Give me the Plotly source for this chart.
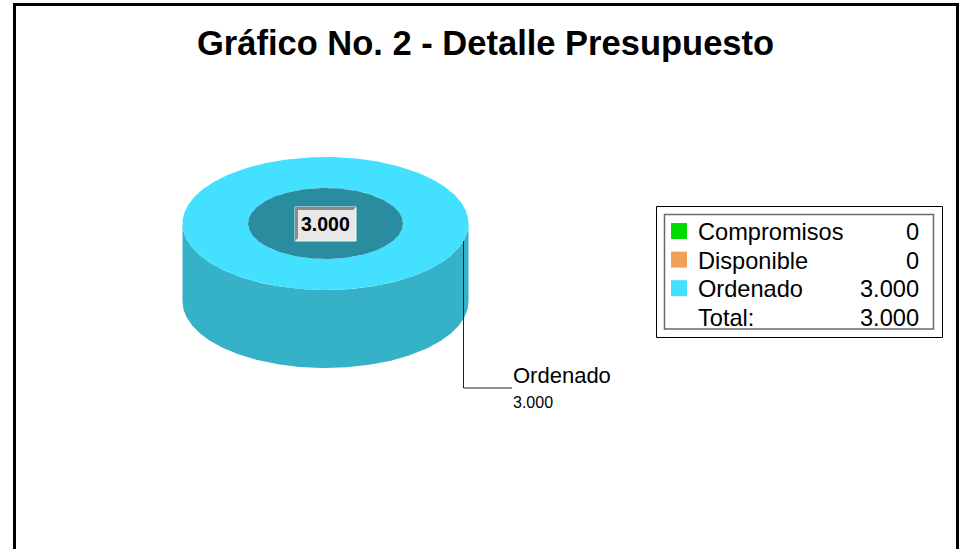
import numpy as np
import plotly.graph_objects as go

# ---------------- data ----------------
categories = ["Compromisos", "Disponible", "Ordenado"]
values = [0, 0, 3000]
top_colors = ["#00DD00", "#EFA257", "#43E1FF"]
side_colors = ["#00AA00", "#BF8046", "#35B2C8"]
hole_color = "#2A8C9F"
title_text = "Gráfico No. 2 - Detalle Presupuesto"
total_label = "Total:"


def fmt(v):
    return f"{v:,.0f}".replace(",", ".")


total = sum(values)

# ---------------- geometry / style ----------------
W, H = 962, 549
CX, CY = 325.5, 223.5      # top face centre
RX, RY = 143.0, 66.5       # outer radii
IRX, IRY = 77.5, 35.5      # hole radii
DEPTH = 78.0               # wall height
FONT = "Arial, Liberation Sans, sans-serif"

fig = go.Figure()


def ell(t, rx, ry, dy=0.0):
    return CX + rx * np.cos(t), CY + dy + ry * np.sin(t)


# slices from values (angles increase clockwise on screen)
fr = np.array(values, dtype=float) / total
ends = np.cumsum(fr) * 2 * np.pi
starts = ends - fr * 2 * np.pi

# side walls (front half only)
for i, (a0, a1) in enumerate(zip(starts, ends)):
    if values[i] == 0:
        continue
    s0, s1 = max(a0, 0.0), min(a1, np.pi)
    if s1 <= s0:
        continue
    t = np.linspace(s0, s1, 200)
    xt, yt = ell(t, RX, RY)
    xb, yb = ell(t[::-1], RX, RY, DEPTH)
    fig.add_trace(go.Scatter(x=np.r_[xt, xb], y=np.r_[yt, yb], fill="toself",
                             fillcolor=side_colors[i], mode="lines",
                             line=dict(width=0, color=side_colors[i]),
                             hoverinfo="skip", showlegend=False))

# top faces
for i, (a0, a1) in enumerate(zip(starts, ends)):
    if values[i] == 0:
        continue
    t = np.linspace(a0, a1, 400)
    xo, yo = ell(t, RX, RY)
    xi, yi = ell(t[::-1], IRX, IRY)
    fig.add_trace(go.Scatter(x=np.r_[xo, xi], y=np.r_[yo, yi], fill="toself",
                             fillcolor=top_colors[i], mode="lines",
                             line=dict(width=0, color=top_colors[i]),
                             hoverinfo="skip", showlegend=False))

# hole
t = np.linspace(0, 2 * np.pi, 300)
xh, yh = ell(t, IRX, IRY)
fig.add_trace(go.Scatter(x=xh, y=yh, fill="toself", fillcolor=hole_color,
                         mode="lines", line=dict(width=0, color=hole_color),
                         hoverinfo="skip", showlegend=False))

shapes = []
annotations = []

# centre total box (bevelled)
bw, bh = 61, 34
bx0, by0 = CX - bw / 2, CY - bh / 2 + 0.5
bx1, by1 = bx0 + bw, by0 + bh
shapes.append(dict(type="rect", x0=bx0, y0=by0, x1=bx1, y1=by1,
                   fillcolor="#E8E8E8", line=dict(width=1, color="#F4F4F4")))
shapes.append(dict(type="path",
                   path=f"M{bx0},{by1} L{bx0},{by0} L{bx1},{by0} L{bx1-3},{by0+3} "
                        f"L{bx0+3},{by0+3} L{bx0+3},{by1-3} Z",
                   fillcolor="#8A8A8A", line=dict(width=0)))
annotations.append(dict(x=CX, y=CY + 0.5, text=f"<b>{fmt(total)}</b>", showarrow=False,
                        font=dict(family=FONT, size=19.5, color="black"),
                        xanchor="center", yanchor="middle"))

# leader line + slice label
LABEL_T = 0.265
ax, ay = ell(LABEL_T, RX, RY)
LEADER_Y, LEADER_X2 = 388, 512
lab_i = int(np.argmax(values))
fig.add_trace(go.Scatter(x=[ax, ax, LEADER_X2], y=[ay, LEADER_Y, LEADER_Y], mode="lines",
                         line=dict(width=1, color="#222222"), hoverinfo="skip",
                         showlegend=False))
annotations.append(dict(x=LEADER_X2 - 1, y=LEADER_Y + 2, text=categories[lab_i], showarrow=False,
                        font=dict(family=FONT, size=22, color="black"),
                        xanchor="left", yanchor="bottom"))
annotations.append(dict(x=LEADER_X2 - 1, y=LEADER_Y + 4, text=fmt(values[lab_i]), showarrow=False,
                        font=dict(family=FONT, size=16, color="black"),
                        xanchor="left", yanchor="top"))

# title
annotations.append(dict(x=485.5, y=43, text=f"<b>{title_text}</b>", showarrow=False,
                        font=dict(family=FONT, size=34.5, color="black"),
                        xanchor="center", yanchor="middle"))

# legend box
shapes.append(dict(type="rect", x0=656.5, y0=206.5, x1=942.5, y1=337.5,
                   line=dict(width=1, color="black"), fillcolor="white"))
shapes.append(dict(type="rect", x0=664.5, y0=214.5, x1=933.5, y1=329,
                   line=dict(width=1.5, color="#6A6A6A")))
ROW0, ROWH = 231, 28.6
rows = list(zip(categories, values, top_colors)) + [(total_label, total, None)]
for r, (name, val, col) in enumerate(rows):
    yc = ROW0 + r * ROWH
    if col is not None:
        shapes.append(dict(type="rect", x0=671, y0=yc - 8, x1=687, y1=yc + 8,
                           fillcolor=col, line=dict(width=0)))
    annotations.append(dict(x=696, y=yc + 1, text=name, showarrow=False,
                            font=dict(family=FONT, size=23.6, color="black"),
                            xanchor="left", yanchor="middle"))
    annotations.append(dict(x=921, y=yc + 1, text=fmt(val), showarrow=False,
                            font=dict(family=FONT, size=23.6, color="black"),
                            xanchor="right", yanchor="middle"))

# outer frame (open at the bottom, like the reference crop)
shapes.append(dict(type="path",
                   path=f"M14.5,{H + 10} L14.5,4.5 L957.5,4.5 L957.5,{H + 10}",
                   line=dict(width=3, color="black")))

fig.update_layout(
    width=W, height=H, margin=dict(l=0, r=0, t=0, b=0),
    paper_bgcolor="white", plot_bgcolor="white",
    xaxis=dict(range=[0, W], visible=False, fixedrange=True),
    yaxis=dict(range=[H, 0], visible=False, fixedrange=True),
    shapes=shapes, annotations=annotations, showlegend=False,
)

fig.write_html("out.html",
               config={"displayModeBar": False, "staticPlot": True},
               post_script="document.body.style.margin='0';document.body.style.overflow='hidden';")
